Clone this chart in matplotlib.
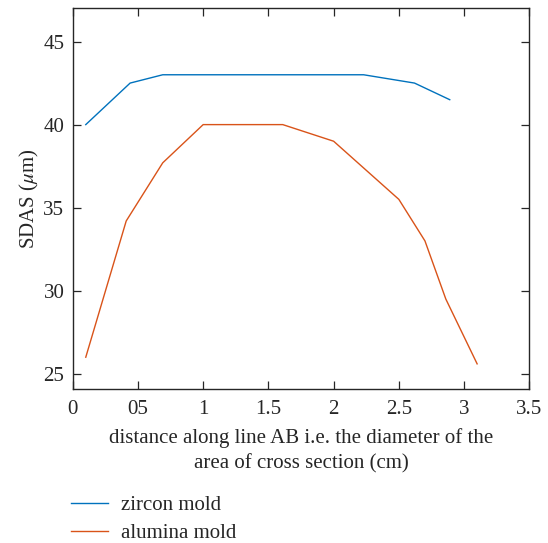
import matplotlib

matplotlib.use("Agg")
import matplotlib.pyplot as plt

plt.rcParams["font.family"] = ["Liberation Serif", "DejaVu Serif"]
plt.rcParams["mathtext.fontset"] = "stix"

# distance along AB (cm) vs SDAS (um)
zircon_x = [0.1, 0.44, 0.69, 2.23, 2.62, 2.89]
zircon_sdas = [40.0, 42.5, 43.0, 43.0, 42.5, 41.5]

alumina_x = [0.1, 0.41, 0.69, 1.0, 1.61, 2.0, 2.5, 2.7, 2.86, 3.1]
alumina_sdas = [26.0, 34.2, 37.7, 40.0, 40.0, 39.0, 35.5, 33.0, 29.5, 25.6]

x_ticks = [0, 0.5, 1, 1.5, 2, 2.5, 3, 3.5]
x_tick_labels = ["0", "05", "1", "1.5", "2", "2.5", "3", "3.5"]
y_ticks = [25, 30, 35, 40, 45]

TEXT = "#262626"
FS = 15

fig = plt.figure(figsize=(5.48, 5.43), dpi=100)
ax = fig.add_axes([0.1327, 0.2831, 0.8332, 0.7016])

line_z, = ax.plot(zircon_x, zircon_sdas, color="#0072BD", linewidth=1.0)
line_a, = ax.plot(alumina_x, alumina_sdas, color="#D95319", linewidth=1.0)

ax.set_xlim(0, 3.5)
ax.set_ylim(24.07, 47.0)
ax.set_xticks(x_ticks)
ax.set_xticklabels(x_tick_labels)
ax.set_yticks(y_ticks)
ax.tick_params(direction="in", length=5.5, width=0.9, top=True, right=True,
               labelsize=FS, colors=TEXT)
ax.tick_params(axis="x", pad=8)
ax.tick_params(axis="y", pad=6)
for spine in ax.spines.values():
    spine.set_color(TEXT)
    spine.set_linewidth(1.0)

ax.set_xlabel("distance along line AB i.e. the diameter of the\narea of cross section (cm)",
              fontsize=FS, color=TEXT, labelpad=6, linespacing=1.45)
ax.set_ylabel(r"SDAS ($\mu$m)", fontsize=FS, color=TEXT, labelpad=2)

fig.legend([line_z, line_a], ["zircon mold", "alumina mold"],
           loc="upper left", bbox_to_anchor=(0.13, 0.087), frameon=False,
           fontsize=FS, handlelength=1.75, handletextpad=0.65, labelspacing=0.38,
           borderpad=0, borderaxespad=0, labelcolor=TEXT)

fig.savefig("out.png", dpi=100)
